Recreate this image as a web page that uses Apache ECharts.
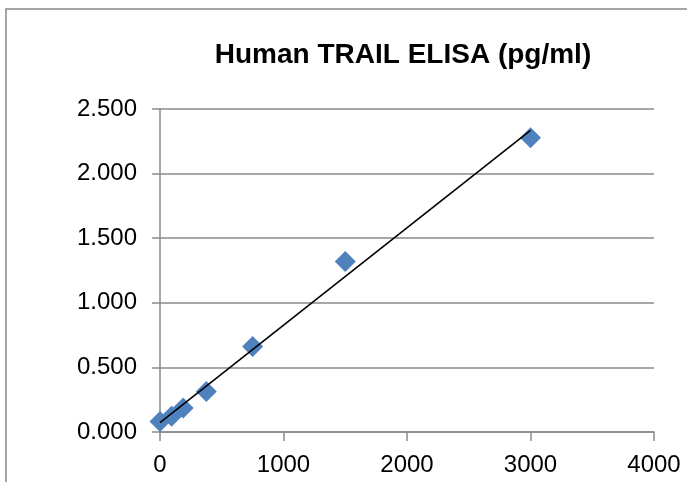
<!DOCTYPE html>
<html>
<head>
<meta charset="utf-8">
<script src="https://cdn.jsdelivr.net/npm/echarts@6/dist/echarts.min.js"></script>
<style>html,body{margin:0;padding:0;background:#fff;}#c{width:687px;height:482px;}</style>
</head>
<body>
<div id="c"></div>
<script>
const titleText = 'Human TRAIL ELISA (pg/ml)';
const concentrations = [0, 93.75, 187.5, 375, 750, 1500, 3000];
const absorbance = [0.082, 0.121, 0.186, 0.314, 0.662, 1.319, 2.278];
const xTicks = [0, 1000, 2000, 3000, 4000];
const yTicks = [0, 0.5, 1.0, 1.5, 2.0, 2.5];

// linear trendline (least squares) over the measured points
const n = concentrations.length;
const mx = concentrations.reduce((a, b) => a + b, 0) / n;
const my = absorbance.reduce((a, b) => a + b, 0) / n;
let sxy = 0, sxx = 0;
for (let i = 0; i < n; i++) {
  sxy += (concentrations[i] - mx) * (absorbance[i] - my);
  sxx += (concentrations[i] - mx) * (concentrations[i] - mx);
}
const slope = sxy / sxx;
const intercept = my - slope * mx;
const xMinData = Math.min(...concentrations), xMaxData = Math.max(...concentrations);
const trend = [[xMinData, intercept + slope * xMinData], [xMaxData, intercept + slope * xMaxData]];

const chart = echarts.init(document.getElementById('c'), null, {renderer: 'canvas'});
const font = 'Liberation Sans';
chart.setOption({
  animation: false,
  backgroundColor: '#fff',
  title: {
    text: titleText,
    left: 398,
    top: 36,
    textAlign: 'center',
    textStyle: {fontFamily: font, fontWeight: 'bold', fontSize: 28, color: '#000'}
  },
  graphic: [{
    type: 'rect',
    shape: {x: 6, y: 9, width: 720, height: 520},
    style: {fill: 'none', stroke: '#888', lineWidth: 1.5},
    silent: true
  }],
  grid: {left: 160, right: 33, top: 109, bottom: 50, containLabel: false},
  xAxis: {
    type: 'value',
    min: xTicks[0],
    max: xTicks[xTicks.length - 1],
    interval: 1000,
    axisLine: {show: true, lineStyle: {color: '#8a8a8a', width: 1.5}},
    axisTick: {show: true, length: 9, lineStyle: {color: '#8a8a8a', width: 1.5}},
    splitLine: {show: false},
    axisLabel: {fontFamily: font, fontSize: 24, color: '#000', margin: 21,
      formatter: v => String(v)}
  },
  yAxis: {
    type: 'value',
    min: yTicks[0],
    max: yTicks[yTicks.length - 1],
    interval: 0.5,
    axisLine: {show: true, lineStyle: {color: '#8a8a8a', width: 1.5}},
    axisTick: {show: true, length: 8, lineStyle: {color: '#8a8a8a', width: 1.5}},
    splitLine: {show: true, lineStyle: {color: '#8a8a8a', width: 1.5}},
    axisLabel: {fontFamily: font, fontSize: 24, color: '#000', margin: 23,
      formatter: v => v.toFixed(3)}
  },
  series: [
    {
      type: 'scatter',
      data: concentrations.map((x, i) => [x, absorbance[i]]),
      symbol: 'diamond',
      symbolSize: 21,
      itemStyle: {color: '#4f81bd', opacity: 1},
      z: 2
    },
    {
      type: 'line',
      data: trend,
      showSymbol: false,
      symbol: 'none',
      lineStyle: {color: '#000', width: 1.6},
      z: 3
    }
  ]
});
</script>
</body>
</html>
